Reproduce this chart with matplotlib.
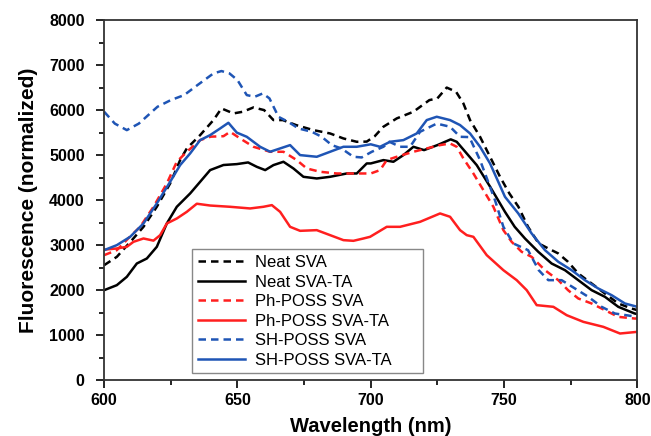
import matplotlib
matplotlib.use("Agg")
import matplotlib.pyplot as plt
from matplotlib.ticker import MultipleLocator

plt.rcParams["font.family"] = ["Liberation Sans", "DejaVu Sans"]

# Neat SVA (black dashed)
neat_sva_x = [600, 604.75, 610.4, 614.75, 619.75, 624.75, 628.5, 631, 636, 641, 644, 648.5, 652, 656,
              660, 663.5, 667, 672, 678.5, 684.75, 689.75, 694.75, 698.5, 701.5, 704.75, 709.75, 716,
              722, 725, 728.5, 732, 734.75, 737.25, 741, 744.75, 748.5, 752, 755.4, 759, 763, 766.6,
              770.35, 774, 777.85, 782.85, 787.85, 792.85, 797.85, 800]
neat_sva_y = [2555, 2740, 3111, 3407, 3852, 4370, 4889, 5148, 5444, 5778, 6037, 5926, 5963, 6059,
              6000, 5778, 5778, 5667, 5555, 5481, 5370, 5296, 5300, 5420, 5630, 5815, 5963,
              6222, 6260, 6500, 6407, 6148, 5778, 5407, 4963, 4518, 4148, 3852, 3407, 3037, 2926,
              2815, 2630, 2370, 2148, 1926, 1704, 1593, 1555]

# Neat SVA-TA (black solid)
neat_ta_x = [600, 604.75, 608.5, 612.25, 616, 619.75, 623.5, 627.25, 632.25, 636, 639.75, 644.75,
             649.75, 654, 657.25, 660.4, 663.5, 667.25, 671, 674.75, 679.75, 684.75, 691, 694.75,
             698.5, 700, 704.75, 708.5, 712.25, 716, 720, 725, 730, 732.25, 736, 739.75, 744.75,
             750.35, 754, 757.85, 762.85, 767.85, 772.85, 777.85, 782.85, 787.85, 792.85, 799, 800]
neat_ta_y = [2000, 2111, 2296, 2592, 2703, 2963, 3481, 3852, 4148, 4407, 4667, 4780,
             4800, 4837, 4740, 4667, 4778, 4852, 4703, 4518, 4481, 4518, 4592, 4592,
             4815, 4815, 4889, 4852, 5000, 5185, 5111, 5222, 5350, 5296, 5037, 4778, 4300,
             3740, 3407, 3148, 2852, 2592, 2444, 2222, 2000, 1852, 1630, 1481, 1470]

# Ph-POSS SVA (red dashed)
ph_sva_x = [600, 604.75, 609, 613.5, 618.5, 623.5, 627.25, 631, 636, 640, 644.75, 647.25, 651, 656,
            662.25, 667.25, 672.25, 676, 681, 687.25, 693.5, 700, 703.5, 706, 709.75, 716, 721, 726,
            729.75, 732.25, 734.75, 738.5, 742.25, 746, 749.75, 752.85, 756.6, 760.35, 765.35,
            770.35, 774, 777.85, 782.85, 787.85, 792.85, 799, 800]
ph_sva_y = [2778, 2889, 3148, 3407, 3852, 4370, 4852, 5074, 5333, 5410, 5420, 5518, 5370, 5185,
            5074, 5074, 4889, 4703, 4630, 4592, 4592, 4592, 4667, 4889, 4963, 5074, 5148, 5222,
            5259, 5185, 4926, 4592, 4222, 3852, 3333, 3074, 2852, 2740, 2444,
            2222, 2000, 1815, 1704, 1555, 1407, 1370, 1370]

# Ph-POSS SVA-TA (red solid)
ph_ta_x = [600, 604.75, 608.5, 611, 614.75, 618.5, 621, 623.5, 627.25, 631, 634.75, 639.75, 647.25,
           654.75, 659.75, 662.9, 666, 669.75, 673.5, 679.75, 684.75, 689.75, 693.5, 697.25, 699.75,
           706, 711, 718.5, 726, 729.75, 733.5, 736, 738.5, 743.5, 749.75, 754.75, 758.5, 762.25,
           768.5, 773.5, 779.75, 787.25, 793.5, 800]
ph_ta_y = [2900, 2926, 2963, 3074, 3148, 3100, 3222, 3481, 3592, 3740, 3920, 3880, 3852,
           3815, 3852, 3889, 3740, 3407, 3318, 3333, 3222, 3111, 3096, 3148, 3185,
           3407, 3407, 3518, 3704, 3630, 3333, 3222, 3185, 2778, 2444, 2222, 2000, 1667,
           1630, 1444, 1296, 1185, 1037, 1074]

# SH-POSS SVA (blue dashed)
sh_sva_x = [600, 604, 608.5, 613, 620, 625, 630, 635, 641, 644, 647, 650, 653.5, 656.5, 659.5, 662,
            665.4, 669, 672.9, 677.9, 681.6, 685.4, 689, 693.5, 696.6, 700.4, 704.75, 707, 711,
            714.75, 718.5, 724.75, 729.75, 733.5, 737, 741, 746.6, 749.75, 753.5, 759, 763, 766.6,
            771.6, 776.6, 781.6, 786.6, 791.6, 800]
sh_sva_y = [5963, 5700, 5555, 5700, 6074, 6222, 6333, 6555, 6815, 6867, 6815, 6667, 6333, 6296, 6370, 6260,
            5850, 5740, 5592, 5518, 5407, 5222, 5148, 4963, 4948, 5074, 5185, 5296, 5185,
            5185, 5518, 5700, 5630, 5407, 5400, 4889, 4000, 3407, 3037, 2889, 2444, 2222,
            2222, 2037, 1852, 1630, 1481, 1407]

# SH-POSS SVA-TA (blue solid)
sh_ta_x = [600, 604.75, 609.75, 614.75, 619.75, 624.75, 628.5, 632.25, 636, 639.75, 643.5, 646.6,
           649.75, 653.5, 658.5, 662.25, 666, 669.75, 673.5, 679.75, 684.75, 689.75, 694.75, 700,
           703.5, 707.25, 712.25, 717.25, 721, 724.75, 729.75, 733.5, 737.25, 741, 744.75, 750.35,
           755.35, 760.35, 765.35, 770.35, 775.35, 780.35, 785.35, 790.35, 795.35, 800]
sh_ta_y = [2889, 3000, 3185, 3481, 3926, 4407, 4778, 5037, 5333, 5444, 5592, 5718,
           5500, 5407, 5185, 5074, 5148, 5222, 5000, 4963, 5074, 5185, 5185, 5240,
           5185, 5296, 5333, 5481, 5778, 5852, 5778, 5667, 5481, 5185, 4815, 4074,
           3704, 3259, 2889, 2630, 2444, 2222, 2037, 1889, 1704, 1630]

black = "#000000"
red = "#ff1f1f"
blue = "#1f55b5"

fig = plt.figure(figsize=(6.51, 4.36), dpi=100)
ax = fig.add_axes([0.160, 0.128, 0.819, 0.826])

lw = 1.8
ax.plot(neat_sva_x, neat_sva_y, color=black, lw=lw, ls=(0, (3, 2)), label="Neat SVA")
ax.plot(neat_ta_x, neat_ta_y, color=black, lw=lw, label="Neat SVA-TA")
ax.plot(ph_sva_x, ph_sva_y, color=red, lw=lw, ls=(0, (3, 2)), label="Ph-POSS SVA")
ax.plot(ph_ta_x, ph_ta_y, color=red, lw=lw, label="Ph-POSS SVA-TA")
ax.plot(sh_sva_x, sh_sva_y, color=blue, lw=lw, ls=(0, (3, 2)), label="SH-POSS SVA")
ax.plot(sh_ta_x, sh_ta_y, color=blue, lw=lw, label="SH-POSS SVA-TA")

ax.set_xlim(600, 800)
ax.set_ylim(0, 8000)
ax.xaxis.set_major_locator(MultipleLocator(50))
ax.xaxis.set_minor_locator(MultipleLocator(25))
ax.yaxis.set_major_locator(MultipleLocator(1000))
ax.yaxis.set_minor_locator(MultipleLocator(500))
ax.tick_params(which="major", direction="out", length=6, width=1.2, labelsize=11.5)
ax.tick_params(axis="y", which="major", pad=8)
ax.tick_params(which="minor", direction="out", length=3.5, width=1.2)
for lab in ax.get_xticklabels() + ax.get_yticklabels():
    lab.set_fontweight("bold")
for sp in ax.spines.values():
    sp.set_linewidth(1.3)
    sp.set_color("#333333")

ax.set_xlabel("Wavelength (nm)", fontsize=14.5, fontweight="bold", labelpad=6)
ax.set_ylabel("Fluorescence (normalized)", fontsize=15, fontweight="bold", labelpad=8)

leg = ax.legend(loc="lower left", bbox_to_anchor=(0.165, 0.019, 0.433, 0.35), mode="expand",
                borderaxespad=0, fontsize=12, handlelength=2.8, handletextpad=0.6,
                labelspacing=0.27, fancybox=False, edgecolor="#888888", framealpha=1,
                borderpad=0.35)
leg.get_frame().set_linewidth(1.0)

fig.savefig("out.png", dpi=100)
